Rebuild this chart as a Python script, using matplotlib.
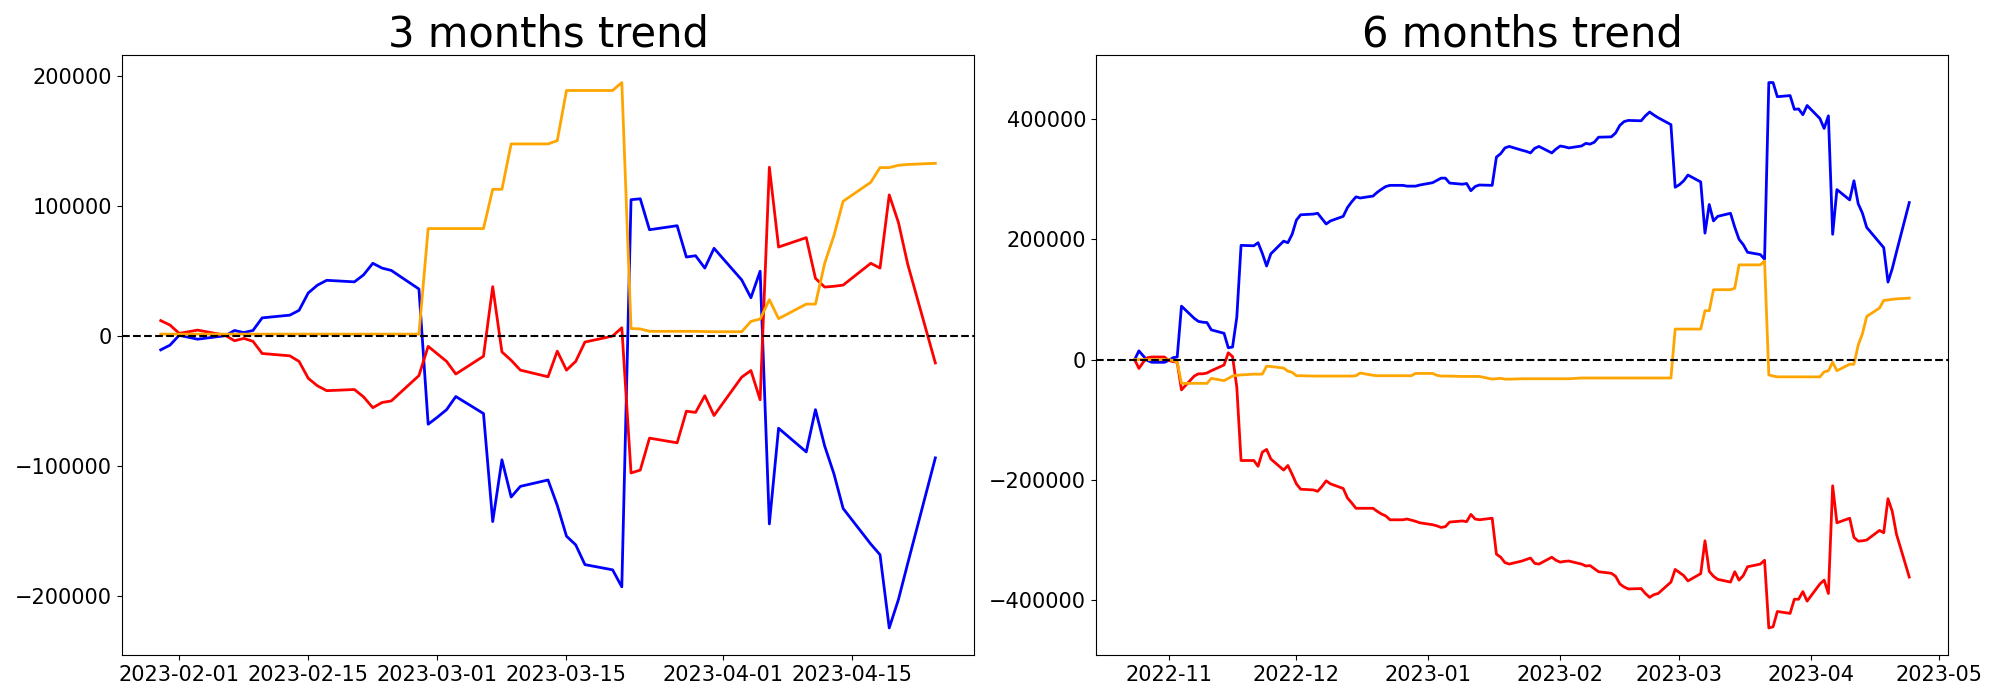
import pandas as pd
import matplotlib
matplotlib.use("Agg")
import matplotlib.pyplot as plt

# trading days (weekdays) shown in each panel
dates_3m = pd.bdate_range("2023-01-30", "2023-04-24")
dates_6m = pd.bdate_range("2022-10-24", "2023-04-24")

# 3 months trend, values read week by week (Mon..Fri)
blue_3m = [
    -10600, -7000, 600, -900, -2400,
    300, 4300, 2700, 4300, 14000,
    16100, 19800, 33200, 39200, 42900,
    41700, 47100, 56000, 52300, 50500,
    36200, -67800, -62400, -56600, -46500,
    -59600, -142700, -95200, -123800, -115600,
    -110700, -130200, -153900, -160600, -175800,
    -179800, -192900, 104900, 105600, 81800,
    84900, 60800, 61800, 52300, 67500,
    43200, 29500, 49900, -144500, -70900,
    -89100, -56600, -84600, -105900, -132600,
    -160000, -168200, -224500, -202600, -175000,
    -93700,
]
red_3m = [
    11900, 8500, 2100, 3300, 4600,
    600, -3600, -1800, -4000, -13400,
    -15200, -19500, -32500, -38300, -42000,
    -41100, -46800, -55100, -51100, -49900,
    -30400, -7900, -13700, -19500, -29200,
    -15500, 38000, -12200, -18600, -26200,
    -31300, -11600, -26200, -19500, -4600,
    0, 6400, -105300, -103100, -78500,
    -82100, -57800, -58700, -45900, -61100,
    -31600, -26500, -49000, 129900, 68500,
    75700, 44400, 37700, 38300, 39200,
    56000, 52300, 108600, 87300, 55400,
    -20700,
]
orange_3m = [
    1500, 1500, 1500, 1500, 1500,
    1500, 1500, 1500, 1500, 1500,
    1500, 1500, 1500, 1500, 1500,
    1500, 1500, 1500, 1500, 1500,
    1500, 82700, 82700, 82700, 82700,
    82700, 112900, 112900, 147800, 147800,
    147800, 150300, 188900, 188900, 188900,
    188900, 195000, 5800, 5500, 3650,
    3650, 3650, 3650, 3500, 3350,
    3350, 11300, 13100, 28000, 13400,
    24600, 24600, 56000, 77300, 103700,
    118300, 129600, 129600, 131400, 132000,
    132900,
]

# 6 months trend
blue_6m = [
    0, 14600, 6400, -1300, -4400,
    -4400, -1300, 3200, 4400, 88900,
    68600, 63500, 62200, 61600, 49500,
    43800, 19700, 21000, 70500, 189900,
    189200, 194300, 176500, 155600, 175900,
    196900, 194300, 208300, 231800, 240700,
    241900, 243200, 234300, 225400, 230500,
    238100, 252700, 262300, 270500, 268600,
    271800, 278100, 283200, 287700, 289600,
    289600, 288300, 288300, 288300, 290200,
    294000, 297800, 301600, 301600, 293400,
    291500, 292700, 280700, 287700, 290200,
    289600, 336600, 342300, 351800, 354300,
    348000, 346100, 343500, 351200, 354300,
    343500, 349900, 355000, 353700, 351800,
    355000, 359400, 358100, 361300, 369600,
    370200, 376600, 389300, 395600, 397500,
    396900, 405100, 411500, 406400, 402000,
    390500, 286400, 290800, 297200, 306700,
    295300, 210200, 257800, 230500, 238100,
    243200, 220000, 200000, 191100, 178400,
    174600, 167000, 460400, 460400, 436900,
    438800, 415900, 416600, 407000, 422300,
    400700, 384200, 405100, 208300, 282600,
    265400, 297200, 259100, 243200, 219700,
    194300, 186100, 128900, 151100, 179100,
    261000,
]
red_6m = [
    0, -14600, -4400, 3200, 4400,
    4400, -1300, -3200, -4400, -50200,
    -27300, -23500, -23500, -22200, -18400,
    -8900, 11400, 5100, -45700, -167600,
    -167600, -177200, -153700, -149200, -165100,
    -183500, -175900, -190500, -206400, -215300,
    -216500, -218800, -210800, -201300, -206400,
    -214000, -229900, -238100, -247000, -247000,
    -247000, -252100, -256500, -259700, -266100,
    -266100, -264800, -266700, -268600, -271100,
    -274300, -276200, -278800, -277500, -269900,
    -268000, -269200, -257200, -264800, -266100,
    -263500, -323200, -328300, -337200, -339700,
    -334600, -332100, -329600, -338500, -339700,
    -328300, -333400, -336500, -335200, -334600,
    -339700, -342900, -342200, -347300, -352400,
    -355000, -360000, -372700, -377800, -381000,
    -380400, -388600, -395000, -390500, -388600,
    -369600, -348600, -353700, -358800, -367700,
    -355600, -301000, -351800, -360000, -365100,
    -369600, -352400, -366400, -358800, -344200,
    -339700, -333400, -445800, -443900, -418500,
    -421600, -398100, -398100, -385400, -401300,
    -372700, -366400, -388600, -209600, -271100,
    -263500, -295300, -301600, -301000, -299700,
    -283800, -287700, -231100, -252100, -290200,
    -361300,
]
orange_6m = [
    0, 0, 0, 0, 0,
    0, 0, -1300, -4400, -39400,
    -39400, -39400, -39400, -39400, -31100,
    -34900, -31100, -27300, -26000, -25400,
    -24100, -24100, -24100, -10800, -11400,
    -14000, -19100, -21000, -26700, -26700,
    -27300, -27300, -27300, -27300, -27300,
    -27300, -27300, -27300, -26700, -22200,
    -26000, -26700, -26700, -26700, -26700,
    -26700, -26700, -26700, -22900, -22900,
    -22900, -26000, -27300, -27300, -27300,
    -27900, -27900, -27900, -27900, -27900,
    -32400, -31800, -31100, -32400, -32400,
    -31800, -31800, -31800, -31800, -31800,
    -31800, -31800, -31800, -31800, -31800,
    -30500, -30500, -30500, -30500, -30500,
    -30500, -30500, -30500, -30500, -30500,
    -30500, -30500, -30500, -30500, -30500,
    -30500, 50800, 50800, 50800, 50800,
    50800, 81300, 81300, 116200, 116200,
    116200, 118700, 157500, 157500, 157500,
    157500, 163800, -25400, -27300, -28600,
    -28600, -28600, -28600, -28600, -28600,
    -28600, -20300, -18400, -4400, -18400,
    -7600, -7600, 24100, 43200, 71800,
    85700, 98400, 99100, 100300, 101000,
    102200,
]

fig, (ax1, ax2) = plt.subplots(1, 2, figsize=(20, 7))
fig.subplots_adjust(left=0.061, right=0.974, top=0.921, bottom=0.064, wspace=0.143)

# left panel
ax1.plot(dates_3m, blue_3m, color="blue", lw=2)
ax1.plot(dates_3m, red_3m, color="red", lw=2)
ax1.plot(dates_3m, orange_3m, color="orange", lw=2)
ax1.axhline(0, color="black", linestyle="--")
ax1.set_title("3 months trend", fontsize=30)

# right panel
ax2.plot(dates_6m, blue_6m, color="blue", lw=2)
ax2.plot(dates_6m, red_6m, color="red", lw=2)
ax2.plot(dates_6m, orange_6m, color="orange", lw=2)
ax2.axhline(0, color="black", linestyle="--")
ax2.set_title("6 months trend", fontsize=30)

for ax in (ax1, ax2):
    ax.tick_params(labelsize=15)

fig.savefig("out.png", dpi=100)
